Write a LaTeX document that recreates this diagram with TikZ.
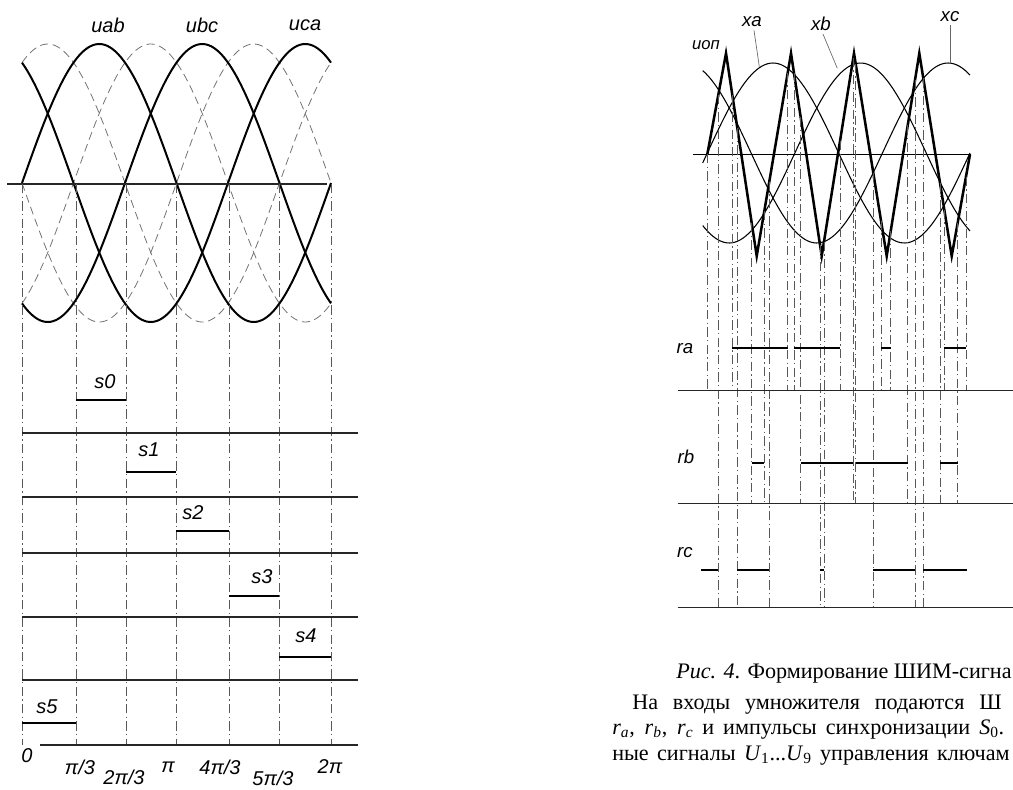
\documentclass[tikz,border=0pt]{standalone}
\usepackage{fontspec}
\setmainfont{Liberation Serif}
\newfontfamily\arialf{Liberation Sans}
\newcommand\isub[2]{\textit{#1}\textsubscript{\textit{#2}}}
\begin{document}
\begin{tikzpicture}[x=0.75pt,y=-0.75pt,
  wave/.style={line width=1.5pt,black},
  dwave/.style={line width=0.6pt,black!55,dash pattern=on 6pt off 3.5pt},
  vline/.style={line width=0.6pt,black!65,dash pattern=on 7pt off 2.5pt on 1pt off 2.5pt},
  sepline/.style={line width=0.8pt,black!85},
  pulse/.style={line width=1.3pt,black},
  lab/.style={font=\arialf\itshape\fontsize{15}{15}\selectfont,inner sep=0pt},
  rlab/.style={font=\arialf\itshape\fontsize{14}{14}\selectfont,inner sep=0pt},
  tri/.style={line width=1.9pt,black,line join=miter},
  thin/.style={line width=0.8pt,black},
  leader/.style={line width=0.5pt,black!60},
  body/.style={font=\fontsize{16.6}{16.6}\selectfont,inner sep=0pt,anchor=base west}]
\useasboundingbox (0,0) rectangle (1013,789);
% ================= LEFT PANEL =================
\foreach \ph in {0,-120,120}{
  \draw[dwave] plot[domain=0:360,samples=120,smooth] ({22+\x*0.858333},{183+139*sin(\x+\ph)});
}
\foreach \ph in {0,-120,120}{
  \draw[wave] plot[domain=0:360,samples=120,smooth] ({22+\x*0.858333},{183-139*sin(\x+\ph)});
}
\draw[sepline] (7,184) -- (327,184);
\foreach \xx in {22,76,126,176,229,279,331}{
  \draw[vline] (\xx,184) -- (\xx,745);
}
\foreach \yy in {433,497,553,617,680}{
  \draw[sepline] (22,\yy) -- (358,\yy);
}
\draw[sepline] (40,745) -- (358,745);
\draw[pulse] (76,400) -- (126,400);
\draw[pulse] (126,472) -- (176,472);
\draw[pulse] (176,531) -- (229,531);
\draw[pulse] (229,596) -- (279,596);
\draw[pulse] (279,657) -- (331,657);
\draw[pulse] (22,723) -- (76,723);
\node[lab] (uab) at (108,25) {uab};
\node[lab] (ubc) at (202,25) {ubc};
\node[lab] (uca) at (305,25) {uca};
\node[lab] (s0) at (105,382) {s0};
\node[lab] (s1) at (149,450) {s1};
\node[lab] (s2) at (193,513) {s2};
\node[lab] (s3) at (262,577) {s3};
\node[lab] (s4) at (306,636) {s4};
\node[lab] (s5) at (47,707) {s5};
\node[lab] (t0) at (27,756) {0};
\node[lab] (t1) at (80,767) {π/3};
\node[lab] (t2) at (124,777) {2π/3};
\node[lab] (t3) at (168,767) {π};
\node[lab] (t4) at (220,767) {4π/3};
\node[lab] (t5) at (273,778) {5π/3};
\node[lab] (t6) at (330,767) {2π};
% ================= RIGHT PANEL =================
\draw[thin] plot[domain=702.7:970,samples=100,smooth] (\x,{153-90*sin((\x-707.3)*1.370384)});
\draw[thin] plot[domain=702.7:970,samples=100,smooth] (\x,{153-90*sin((\x-707.3)*1.370384-120)});
\draw[thin] plot[domain=702.7:970,samples=100,smooth] (\x,{153-90*sin((\x-707.3)*1.370384-240)});
\draw[line width=1.2pt] (693,154.3) -- (971,154.3);
\draw[tri] (707.3,154.3) -- (726,53.3) -- (756.7,256) -- (791,53.3) -- (821.7,256) -- (854,53.3) -- (886.7,256) -- (919.3,53.3) -- (951.7,256) -- (970,154.3);
\foreach \xx/\yt in {707.7/154,732.3/94.9,787.7/72.8,794/73.1,840/141,881/220.7,890.7/231.1,944.3/209.8,966/176.5}{
  \draw[vline] (\xx,\yt) -- (\xx,390.7);
}
\foreach \xx/\yt in {751.7/222.9,764.3/211,800.7/117.3,853.3/57.6,855.7/63.8,907.7/125.4,940/182.9,957.7/222.6}{
  \draw[vline] (\xx,\yt) -- (\xx,503.3);
}
\foreach \xx/\yt in {718.3/94.9,737.3/127.9,769.3/181.5,820/244.7,824/241.6,873.3/173,915/80,923.3/78.3}{
  \draw[vline] (\xx,\yt) -- (\xx,607.3);
}
\draw[sepline] (677.7,390.7) -- (1013,390.7);
\draw[sepline] (677.7,503.3) -- (1013,503.3);
\draw[sepline] (677.7,607.3) -- (1013,607.3);
\foreach \a/\b in {732.3/787.7,794/840,881/890.7,944.3/966}{\draw[pulse] (\a,347.7) -- (\b,347.7);}
\foreach \a/\b in {751.7/764.3,800.7/853.3,855.7/907.7,940/957.7}{\draw[pulse] (\a,462.7) -- (\b,462.7);}
\foreach \a/\b in {701.3/718.3,737.3/769.3,820/824,873.3/915,923.3/966.7}{\draw[pulse] (\a,570) -- (\b,570);}
\node[rlab] (ra) at (685,349) {ra};
\node[rlab] (rb) at (686,457) {rb};
\node[rlab] (rc) at (685,553) {rc};
\node[rlab] (xa) at (752,22) {xa};
\node[rlab] (xb) at (821,24) {xb};
\node[rlab] (xc) at (950,17) {xc};
\node[font=\arialf\itshape\fontsize{12.5}{12.5}\selectfont,inner sep=0pt] (uop) at (706,45) {uоп};
\coordinate (xap) at (759.3,66.7);
\coordinate (xbp) at (837.3,68.3);
\coordinate (xcp) at (950,62.7);
\draw[leader] (xa.south) ++(2,3) -- (xap);
\draw[leader] (xb.south) ++(2,3) -- (xbp);
\draw[leader] (xc.south) ++(0,3) -- (xcp);
% ================= TEXT =================
\node[body] (cap) at (676,678) {\textit{Рис. 4}. Формирование ШИМ-сигна};
\node[body] (l1) at (632,709) {\makebox[277pt][s]{На входы умножителя подаются Ш}};
\node[body] (l2) at (612,734) {\makebox[294pt][s]{\isub{r}{a}, \isub{r}{b}, \isub{r}{c} и импульсы синхронизации \textit{S}\textsubscript{0}.}};
\node[body] (l3) at (612,760) {\makebox[298pt][s]{ные сигналы \textit{U}\textsubscript{1}...\textit{U}\textsubscript{9} управления ключам}};
\end{tikzpicture}
\end{document}
